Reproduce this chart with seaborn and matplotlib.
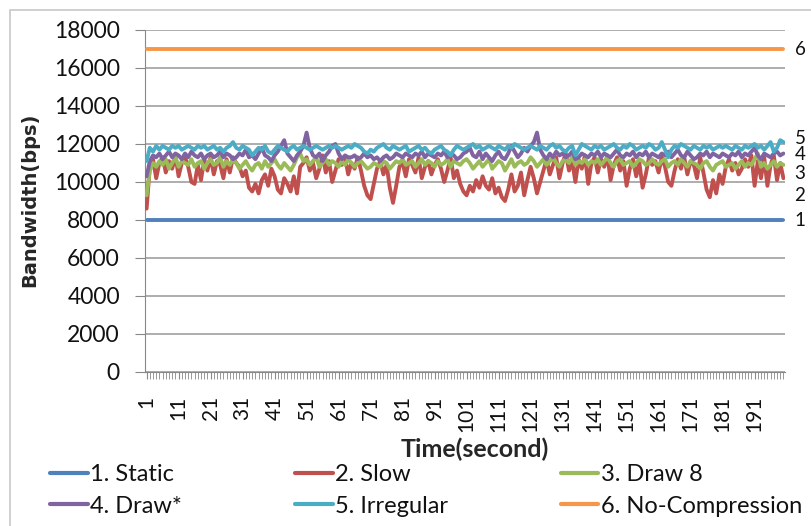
import matplotlib
matplotlib.use('Agg')
import numpy as np
import pandas as pd
import matplotlib.pyplot as plt
import seaborn as sns
from matplotlib.lines import Line2D
from matplotlib.patches import Rectangle

# 数据：每秒带宽 (bps)
seconds = list(range(1, 201))

static = [8000] * 200
no_compression = [17000] * 200

slow = [
    8600, 10800, 11200, 10200, 11000, 11300, 10500, 11100, 10700, 11400, 10300, 11000, 11300, 10800, 10000, 9900, 10900, 10100, 11200, 10600,
    11300, 10400, 11100, 10900, 10200, 11200, 10500, 11300, 11000, 10800, 10300, 10600, 9700, 9500, 9900, 9400, 10100, 10400, 9800, 10700,
    10300, 9600, 9400, 10200, 9900, 9500, 10300, 9400, 10800, 11000, 11300, 10600, 11000, 10200, 10700, 11400, 10500, 11100, 10000, 10600,
    11200, 10900, 11300, 10400, 11000, 10700, 11300, 10600, 9800, 9300, 9100, 9900, 10700, 11100, 10400, 10900, 9700, 8900, 9800, 10800,
    11000, 10300, 11200, 10900, 10500, 11300, 10200, 10800, 11100, 10400, 10900, 11200, 10700, 10000, 10600, 11300, 10200, 10600, 9900, 9500,
    9300, 9800, 9500, 10100, 9700, 10300, 9800, 9600, 10200, 9400, 9700, 9200, 9000, 9600, 10400, 9500, 9800, 10500, 9300, 10100,
    10800, 10200, 9400, 10000, 10600, 11200, 10400, 10900, 11300, 10200, 11000, 11500, 10600, 11100, 10000, 11200, 10700, 11400, 9900, 11000,
    11300, 10500, 11200, 10800, 11400, 10100, 10900, 11300, 10600, 11100, 9800, 10700, 11200, 10300, 11000, 9700, 10400, 11300, 10900, 11100,
    10500, 11300, 10800, 10000, 9800, 10600, 11200, 10700, 11300, 10400, 11100, 10900, 10200, 11300, 10500, 9600, 9200, 10100, 9400, 10400,
    9900, 10800, 11200, 10600, 11000, 10400, 10700, 11200, 10800, 11400, 9800, 11100, 10200, 11300, 9800, 10900, 11400, 10100, 11000, 10200,
]

draw8 = [
    9300, 10600, 11000, 10800, 11100, 10900, 11200, 10700, 11000, 11300, 10800, 11100, 11000, 10900, 11200, 10800, 11000, 11100, 10700, 11000,
    11200, 10900, 11000, 11300, 10800, 11100, 10900, 11200, 11000, 10700, 10900, 11100, 10800, 10600, 10900, 11000, 10700, 11100, 10800, 11000,
    11200, 10900, 10700, 11000, 10800, 10600, 10900, 11300, 11500, 11100, 11200, 10900, 11100, 11300, 10800, 11000, 11200, 10900, 11100, 11000,
    10800, 11100, 10900, 11200, 11000, 10800, 11000, 11100, 10900, 10700, 10800, 11000, 10900, 10800, 11100, 11000, 10700, 10900, 11100, 11000,
    11200, 10900, 11000, 11100, 10800, 11000, 11200, 10900, 11100, 11000, 10800, 11100, 10900, 11000, 11200, 10800, 11100, 11000, 10900, 11100,
    11200, 11000, 10700, 10900, 11100, 10800, 11000, 11200, 10700, 10900, 11100, 11000, 10600, 10900, 11200, 10800, 11000, 11100, 10900, 11000,
    11300, 11100, 10800, 11000, 11200, 10900, 11100, 11300, 11000, 10800, 11100, 11200, 11000, 11300, 10900, 11100, 11000, 11200, 10900, 11100,
    11000, 11200, 10900, 11100, 11300, 11000, 10800, 11100, 11200, 10900, 11000, 11100, 10800, 11000, 11200, 11100, 10900, 11000, 11200, 11000,
    10900, 11100, 11200, 10800, 11000, 11100, 10900, 11200, 11000, 10800, 11100, 11000, 10900, 10700, 11000, 11100, 10800, 10600, 10900, 11000,
    11100, 10800, 10900, 11000, 10700, 10900, 11100, 10800, 11000, 10900, 11200, 11500, 10800, 11000, 10700, 10900, 11100, 10800, 11000, 10900,
]

draw_star = [
    10300, 11100, 11400, 11300, 11500, 11200, 11400, 11600, 11300, 11500, 11400, 11200, 11500, 11300, 11600, 11400, 11300, 11500, 11200, 11400,
    11500, 11300, 11400, 11600, 11300, 11500, 11400, 11200, 11300, 11500, 11400, 11700, 11300, 11400, 11200, 11500, 11800, 11400, 11300, 11100,
    11400, 11600, 11900, 12200, 11500, 11300, 11100, 11400, 11600, 11900, 12600, 11800, 11400, 11300, 11500, 11100, 11400, 11600, 11900, 12000,
    11500, 11200, 11400, 11300, 11300, 11400, 11200, 11300, 11500, 11300, 11400, 11200, 11300, 11100, 11300, 11400, 11200, 11300, 11500, 11400,
    11300, 11500, 11400, 11300, 11500, 11400, 11600, 11300, 11500, 11400, 11300, 11500, 11400, 11600, 11300, 11500, 11400, 11200, 11300, 11500,
    11600, 11800, 11400, 11300, 11600, 11200, 11500, 11300, 11100, 11400, 11600, 11300, 11200, 11500, 11900, 11600, 11300, 11500, 11800, 11600,
    11900, 12100, 12600, 11700, 11400, 11200, 11500, 11300, 11600, 11400, 11500, 11300, 11400, 11600, 11200, 11300, 11500, 11400, 11300, 11500,
    11400, 11600, 11300, 11500, 11400, 11300, 11500, 11700, 11400, 11300, 11500, 11400, 11600, 11300, 11500, 11400, 11600, 11300, 11500, 11400,
    11300, 11500, 11400, 11600, 11300, 11500, 11700, 11400, 11300, 11600, 11400, 11200, 11300, 11500, 11400, 11600, 11300, 11500, 11400, 11300,
    11500, 11400, 11300, 11500, 11400, 11600, 11300, 11500, 11400, 11600, 11800, 11400, 11200, 11500, 11400, 11300, 11500, 11600, 11400, 11500,
]

irregular = [
    11100, 11800, 11600, 11900, 11700, 11900, 11800, 11700, 11900, 11800, 11900, 11700, 11800, 11900, 11800, 11700, 11900, 11800, 11900, 11700,
    11800, 11900, 11700, 11800, 11600, 11800, 11900, 12100, 11800, 11700, 11900, 11800, 11700, 11400, 11600, 11800, 11700, 11900, 11600, 11500,
    11700, 11900, 11800, 11700, 11600, 11800, 11900, 11700, 11800, 11900, 11800, 11700, 11800, 11900, 11800, 11700, 11800, 11900, 11800, 11900,
    11800, 11700, 11800, 11900, 11800, 12000, 11900, 11800, 11600, 11500, 11700, 11600, 11800, 11900, 12000, 11800, 11700, 11900, 11800, 11700,
    11800, 11900, 11600, 11700, 11800, 11900, 11700, 11800, 11600, 11500, 11700, 11800, 11900, 11700, 11600, 11400, 11700, 11900, 11800, 11700,
    11800, 11900, 12000, 11800, 11900, 11700, 11800, 11900, 11800, 11700, 11900, 11800, 11700, 11900, 11800, 12000, 11900, 11800, 11700, 11800,
    11900, 11800, 11700, 11900, 11800, 11700, 11900, 12000, 11800, 11900, 11700, 11600, 11800, 11900, 11400, 11700, 12000, 11900, 11800, 11700,
    11900, 11800, 11900, 11700, 11800, 11900, 12000, 11800, 11700, 11900, 11800, 12000, 11900, 11700, 11800, 11900, 11800, 12000, 11900, 11700,
    11800, 12100, 11700, 11300, 11700, 11900, 11800, 12000, 11900, 11800, 11700, 11900, 11800, 11700, 11900, 11800, 11900, 11700, 11800, 11900,
    11800, 11900, 11800, 11700, 11900, 11800, 11700, 11900, 11800, 11900, 12000, 11800, 11900, 11700, 11900, 12100, 11600, 11800, 12200, 12100,
]

series_names = ['1. Static', '2. Slow', '3. Draw 8', '4. Draw*', '5. Irregular', '6. No-Compression']
series_values = [static, slow, draw8, draw_star, irregular, no_compression]
end_labels = ['1', '2', '3', '4', '5', '6']
end_label_y = [7950, 9300, 10450, 11450, 12300, 16950]
colors = ['#4F81BD', '#C0504D', '#9BBB59', '#8064A2', '#4BACC6', '#F79646']

# 整理成长表
df = pd.concat([pd.DataFrame({'Time': seconds, 'Bandwidth': v, 'Series': n})
                for n, v in zip(series_names, series_values)], ignore_index=True)

sns.set_style('white')
plt.rcParams['font.family'] = ['Lato', 'DejaVu Sans']

fig = plt.figure(figsize=(8.12, 5.26), dpi=100)
ax = fig.add_axes([145 / 812, 1 - 372 / 526, 640 / 812, 342 / 526])

sns.lineplot(data=df, x='Time', y='Bandwidth', hue='Series', hue_order=series_names,
             palette=colors, linewidth=2.8, ax=ax, legend=False, zorder=3)

ax.set_xlim(0.5, 200.5)
ax.set_ylim(0, 18000)
ax.set_yticks(range(0, 18001, 2000))
ax.set_xticks(range(1, 200, 10))
ax.set_xticks(range(1, 201), minor=True)
ax.set_xticklabels([str(t) for t in range(1, 200, 10)], rotation=90, fontsize=15, color='#111111')
ax.tick_params(axis='y', labelsize=16.5, labelcolor='#111111', length=7, color='#888888',
               direction='out', left=True, pad=11)
ax.tick_params(axis='x', which='both', length=5, color='#888888', direction='out', bottom=True, pad=12)
ax.grid(axis='y', color='#a0a0a0', linewidth=1.2)
ax.grid(axis='x', visible=False)
for s in ['top', 'right']:
    ax.spines[s].set_visible(False)
for s in ['left', 'bottom']:
    ax.spines[s].set_color('#888888')
ax.set_xlabel('')
ax.set_ylabel('')

# 轴标题
fig.text(30 / 812, 1 - 200 / 526, 'Bandwidth(bps)', rotation=90, ha='center', va='center',
         fontsize=14, fontweight='bold', family='DejaVu Sans')
fig.text(475 / 812, 1 - 449 / 526, 'Time(second)', ha='center', va='center',
         fontsize=18, fontweight='bold')

# 右侧序号
for lab, y in zip(end_labels, end_label_y):
    ax.text(203.5, y, lab, ha='left', va='center', fontsize=13.5, color='#111111', clip_on=False)

# 图例（按行排列）
handles = [Line2D([0], [0], color=c, linewidth=3) for c in colors]
order = [0, 3, 1, 4, 2, 5]
fig.legend([handles[i] for i in order], [series_names[i] for i in order],
           loc='upper left', bbox_to_anchor=(50 / 812, 0, 752 / 812, 1 - 464 / 526),
           mode='expand', ncol=3, frameon=False, handlelength=1.6, handletextpad=0.1,
           labelspacing=0.45, borderaxespad=0, borderpad=0, fontsize=17, labelcolor='#111111')

# 外框
fig.patches.append(Rectangle((10 / 812, -0.01), 1.0, 1 - 10 / 526 + 0.01, transform=fig.transFigure,
                             fill=False, edgecolor='#c8c8c8', linewidth=1.2))

fig.savefig('out.png', dpi=100)
